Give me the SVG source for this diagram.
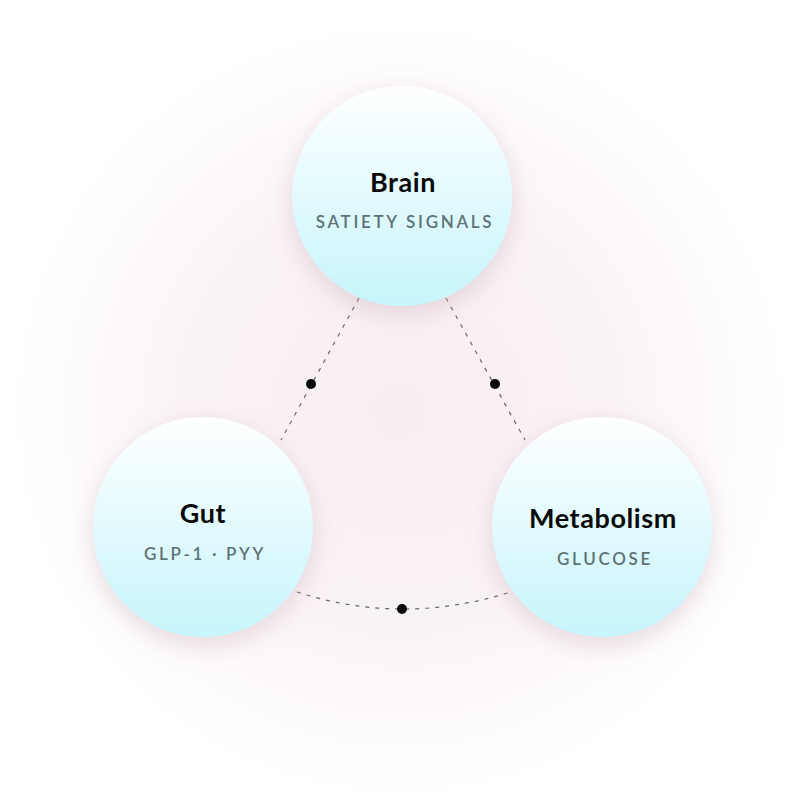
<svg xmlns="http://www.w3.org/2000/svg" width="795" height="803" viewBox="0 0 795 803">
  <defs>
    <radialGradient id="bg" cx="400" cy="410" r="390" gradientUnits="userSpaceOnUse">
      <stop offset="0" stop-color="#f7eef2"/>
      <stop offset="0.55" stop-color="#faf3f6"/>
      <stop offset="1" stop-color="#ffffff"/>
    </radialGradient>
    <linearGradient id="node" x1="0" y1="0" x2="0" y2="1">
      <stop offset="0" stop-color="#ffffff"/>
      <stop offset="1" stop-color="#c6f5fb"/>
    </linearGradient>
    <filter id="sh" x="-30%" y="-30%" width="160%" height="160%">
      <feDropShadow dx="0" dy="8" stdDeviation="12" flood-color="#b89aa8" flood-opacity="0.35"/>
    </filter>
    <style>
      .c { fill: url(#node); filter: url(#sh); }
      .t { font-family: Lato, "Liberation Sans", sans-serif; font-weight: 700; font-size: 27px; fill: #0a0a0a; text-anchor: middle; letter-spacing: 0.6px; }
      .s { font-family: Lato, "Liberation Sans", sans-serif; font-weight: 600; font-size: 17px; fill: #5e7276; text-anchor: middle; letter-spacing: 2.7px; }
      .l { fill: none; stroke: #6a6a6a; stroke-width: 1.2; stroke-dasharray: 4 6; }
      .d { fill: #0a0a0a; }
    </style>
  </defs>
  <rect width="795" height="803" fill="#ffffff"/>
  <circle cx="400" cy="410" r="390" fill="url(#bg)"/>
  <g id="connectors">
    <line class="l" x1="359" y1="298" x2="281" y2="440"/>
    <line class="l" x1="446" y1="298" x2="525" y2="440"/>
    <path class="l" d="M297 592 Q402 626 511 592"/>
    <circle class="d" cx="311" cy="384" r="5"/>
    <circle class="d" cx="495" cy="384" r="5"/>
    <circle class="d" cx="402" cy="609" r="5"/>
  </g>
  <g id="brain">
    <circle class="c" cx="402" cy="196" r="110"/>
    <text class="t" x="403" y="192">Brain</text>
    <text class="s" x="405" y="228">SATIETY SIGNALS</text>
  </g>
  <g id="gut">
    <circle class="c" cx="203" cy="527" r="110"/>
    <text class="t" x="203" y="523">Gut</text>
    <text class="s" x="205" y="560">GLP-1 · PYY</text>
  </g>
  <g id="metabolism">
    <circle class="c" cx="602" cy="527" r="110"/>
    <text class="t" x="603" y="528">Metabolism</text>
    <text class="s" x="605" y="565">GLUCOSE</text>
  </g>
</svg>
